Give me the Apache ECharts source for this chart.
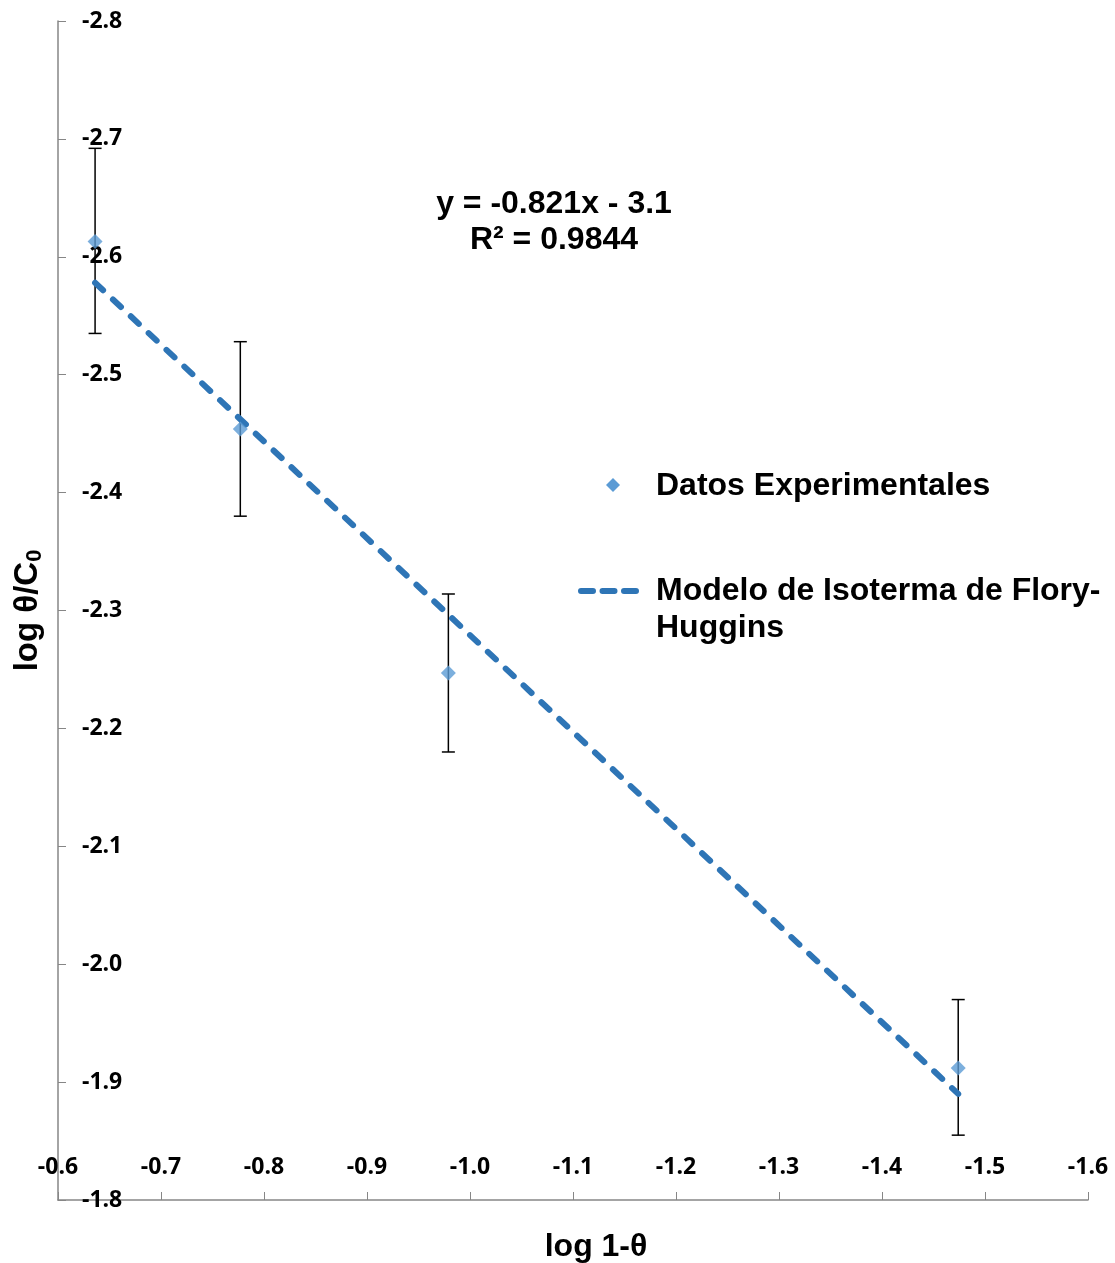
<!DOCTYPE html>
<html>
<head>
<meta charset="utf-8">
<script src="https://cdn.jsdelivr.net/npm/echarts@6/dist/echarts.min.js"></script>
<style>
html,body{margin:0;padding:0;background:#fff;}
#chart{width:1115px;height:1263px;}
</style>
</head>
<body>
<div id="chart"></div>
<script>
// Data
const expX = [-0.636, -0.777, -0.979, -1.474];
const expY = [-2.613, -2.454, -2.247, -1.912];
const errLow = [-2.535, -2.380, -2.180, -1.855];
const errHigh = [-2.692, -2.528, -2.314, -1.970];
const trendX = [-0.636, -1.474];
const trendY = [-2.578, -1.890];
const xTicks = [-0.6, -0.7, -0.8, -0.9, -1.0, -1.1, -1.2, -1.3, -1.4, -1.5, -1.6];
const yTicks = [-2.8, -2.7, -2.6, -2.5, -2.4, -2.3, -2.2, -2.1, -2.0, -1.9, -1.8];

const scatterData = expX.map((x, i) => [x, expY[i]]);
const errData = expX.map((x, i) => [x, errLow[i], errHigh[i]]);
const trendData = trendX.map((x, i) => [x, trendY[i]]);

const tickFont = '"Open Sans", sans-serif';
const arial = '"Liberation Sans", Arial, sans-serif';
const bigFont = 32;
const lineColor = '#2E75B6';

const chart = echarts.init(document.getElementById('chart'));
chart.setOption({
  animation: false,
  backgroundColor: '#fff',
  grid: {left: 58, right: 27, top: 21, bottom: 63, containLabel: false, outerBoundsMode: 'none'},
  xAxis: {
    type: 'value', inverse: true, min: -1.6, max: -0.6, interval: 0.1,
    axisLine: {show: true, lineStyle: {color: '#868686', width: 1.5}},
    axisTick: {show: true, inside: true, length: 8, lineStyle: {color: '#868686', width: 1}},
    splitLine: {show: false},
    axisLabel: {
      inside: true, margin: 21, showMinLabel: true, showMaxLabel: true,
      fontFamily: tickFont, fontWeight: 'bold', fontSize: 23, color: '#000',
      formatter: v => { const t = xTicks.find(s => Math.abs(s - v) < 1e-6); return t !== undefined ? t.toFixed(1) : ''; }
    },
    name: 'log 1-θ', nameLocation: 'middle', nameGap: 31,
    nameTextStyle: {fontFamily: arial, fontWeight: 'bold', fontSize: bigFont, color: '#000', padding: [0, 0, 0, 46]}
  },
  yAxis: {
    type: 'value', inverse: true, min: -2.8, max: -1.8, interval: 0.1,
    axisLine: {show: true, lineStyle: {color: '#868686', width: 1.5}},
    axisTick: {show: true, inside: true, length: 8, lineStyle: {color: '#868686', width: 1}},
    splitLine: {show: false},
    axisLabel: {
      inside: true, margin: 24, showMinLabel: true, showMaxLabel: true,
      fontFamily: tickFont, fontWeight: 'bold', fontSize: 23, color: '#000',
      formatter: v => { const t = yTicks.find(s => Math.abs(s - v) < 1e-6); return t !== undefined ? t.toFixed(1) : ''; }
    },
    name: 'log θ/C{sub|0}', nameLocation: 'middle', nameGap: 12, nameRotate: 90,
    nameTextStyle: {
      fontFamily: arial, fontWeight: 'bold', fontSize: 33, color: '#000',
      rich: {sub: {fontFamily: arial, fontWeight: 'bold', fontSize: 22, color: '#000', verticalAlign: 'bottom', padding: [15, 0, 0, 0]}}
    }
  },
  series: [
    {
      name: 'Modelo de Isoterma de Flory-Huggins',
      type: 'line', data: trendData, showSymbol: false, symbol: 'none', z: 3,
      lineStyle: {color: lineColor, width: 6, type: [11, 13.5], cap: 'round'}
    },
    {
      name: 'errorbars', type: 'custom', data: errData, z: 2,
      renderItem: function (params, api) {
        const x = api.value(0);
        const lo = api.coord([x, api.value(1)]);
        const hi = api.coord([x, api.value(2)]);
        const c = 6.5;
        const style = {stroke: '#000', lineWidth: 1.5, fill: null};
        return {type: 'group', children: [
          {type: 'line', shape: {x1: lo[0], y1: lo[1], x2: hi[0], y2: hi[1]}, style: style},
          {type: 'line', shape: {x1: lo[0] - c, y1: lo[1], x2: lo[0] + c, y2: lo[1]}, style: style},
          {type: 'line', shape: {x1: hi[0] - c, y1: hi[1], x2: hi[0] + c, y2: hi[1]}, style: style}
        ]};
      }
    },
    {
      name: 'Datos Experimentales',
      type: 'scatter', data: scatterData, symbol: 'diamond', symbolSize: 15, z: 4,
      itemStyle: {color: '#5B9BD5'}
    }
  ],
  graphic: [
    {type: 'text', x: 554, y: 204, style: {text: 'y = -0.821x - 3.1', font: 'bold ' + bigFont + 'px ' + arial, fill: '#000', align: 'center', verticalAlign: 'middle'}},
    {type: 'text', x: 554, y: 240, style: {text: 'R² = 0.9844', font: 'bold ' + bigFont + 'px ' + arial, fill: '#000', align: 'center', verticalAlign: 'middle'}},
    {type: 'polygon', shape: {points: [[613, 478], [620, 485], [613, 492], [606, 485]]}, style: {fill: '#5B9BD5'}},
    {type: 'text', x: 656, y: 486, style: {text: 'Datos Experimentales', font: 'bold ' + bigFont + 'px ' + arial, fill: '#000', align: 'left', verticalAlign: 'middle'}},
    {type: 'line', shape: {x1: 581, y1: 591, x2: 636, y2: 591}, style: {stroke: lineColor, lineWidth: 6, lineDash: [12, 9.5], lineCap: 'round'}},
    {type: 'text', x: 656, y: 591, style: {text: 'Modelo de Isoterma de Flory-', font: 'bold ' + bigFont + 'px ' + arial, fill: '#000', align: 'left', verticalAlign: 'middle'}},
    {type: 'text', x: 656, y: 628, style: {text: 'Huggins', font: 'bold ' + bigFont + 'px ' + arial, fill: '#000', align: 'left', verticalAlign: 'middle'}}
  ]
});
</script>
</body>
</html>
